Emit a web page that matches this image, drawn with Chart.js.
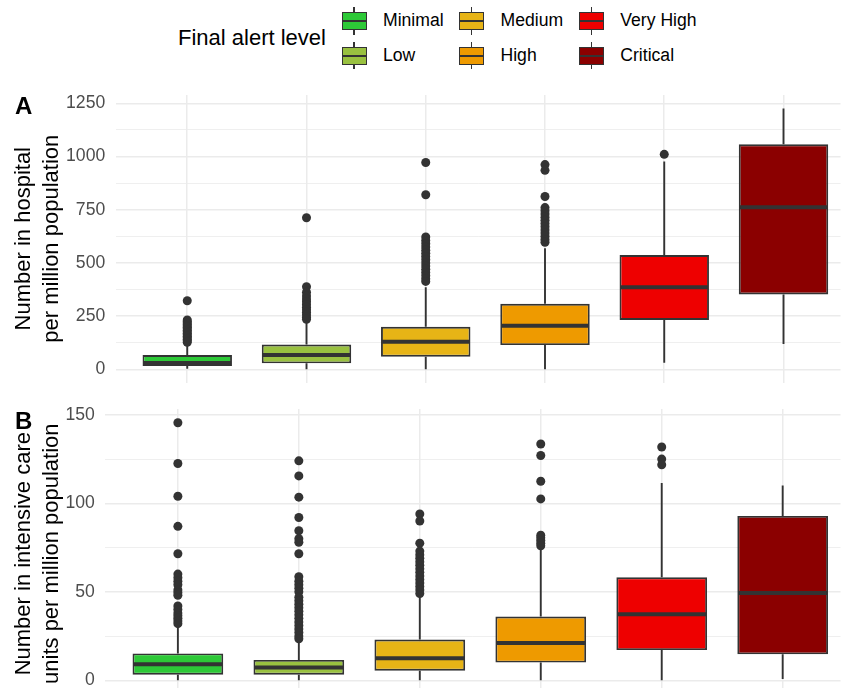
<!DOCTYPE html>
<html><head><meta charset="utf-8">
<script src="https://cdn.jsdelivr.net/npm/chart.js@4.4.1/dist/chart.umd.min.js"></script>
<style>
html,body{margin:0;padding:0;background:#fff;overflow:hidden;}
body{width:845px;height:692px;position:relative;font-family:"Liberation Sans",Arial,sans-serif;}
.wrap{position:absolute;left:0;width:845px;}
#wrapA{top:80px;height:310px;}
#wrapB{top:395px;height:297px;}
.tag{position:absolute;left:15px;font-weight:bold;font-size:24px;line-height:24px;color:#000;z-index:2;}
.ytitle{position:absolute;width:320px;height:55.4px;font-size:22px;line-height:27.7px;color:#000;text-align:center;white-space:nowrap;transform:rotate(-90deg);transform-origin:50% 50%;z-index:1;}
.ltitle{position:absolute;left:178px;top:27px;font-size:22px;line-height:22px;color:#000;white-space:nowrap;}
.llab{position:absolute;font-size:17.6px;line-height:17.6px;color:#000;white-space:nowrap;}
.key{position:absolute;width:25px;height:27.6px;}
.key .wh{position:absolute;left:11.8px;top:0;width:1.5px;height:27.6px;background:#333;}
.key .bx{position:absolute;left:0;top:5px;width:25px;height:18.3px;box-sizing:border-box;border:1.5px solid #333;}
.key .md{position:absolute;left:1px;top:13.1px;width:23px;height:2px;background:#333;}
</style>
</head>
<body>
<div class="ltitle">Final alert level</div>
<div id="legend"></div>
<div class="wrap" id="wrapA"><canvas id="cA"></canvas></div>
<div class="wrap" id="wrapB"><canvas id="cB"></canvas></div>
<div class="ytitle" id="tA" style="left:-122.65px;top:211.3px"></div>
<div class="ytitle" id="tB" style="left:-122.65px;top:525.8px"></div>
<div class="tag" style="top:93.6px">A</div>
<div class="tag" style="top:408.6px">B</div>
<script>
// ---- data ----
const categories = ['Minimal', 'Low', 'Medium', 'High', 'Very High', 'Critical'];
const colors = ['#2DC937', '#99C140', '#E7B416', '#EE9A00', '#EE0000', '#8B0000'];

// Panel A: number in hospital per million population
const hospTitle = ['Number in hospital', 'per million population'];
const hospMin = [2, 0, 0, 0, 31, 119];
const hospQ1  = [15, 28, 59, 114, 232, 352];
const hospMed = [30, 67, 130, 205, 385, 761];
const hospQ3  = [67, 116, 200, 308, 537, 1057];
const hospMax = [122, 228, 385, 569, 976, 1226];
const hospOut = [
  [322, 232, 225, 218, 211, 204, 197, 190, 183, 176, 169, 162, 155, 148, 141, 134, 127],
  [712, 388, 362, 345, 330, 318, 305, 292, 280, 268, 256, 245, 235],
  [972, 820, 622, 605, 590, 575, 560, 545, 530, 515, 500, 485, 470, 455, 440, 425, 413],
  [962, 935, 812, 760, 745, 730, 715, 700, 685, 670, 655, 640, 625, 610, 597],
  [1010],
  []
];
const hospTicks = [0, 250, 500, 750, 1000, 1250];
const hospMinor = [125, 375, 625, 875, 1125];

// Panel B: number in intensive care units per million population
const icuTitle = ['Number in intensive care', 'units per million population'];
const icuMin = [0, 0, 0, 0, 0, 0.8];
const icuQ1  = [3.2, 3.2, 5.4, 10, 17.1, 14.7];
const icuMed = [9.1, 7.2, 12.5, 21.1, 37.3, 49.3];
const icuQ3  = [15.2, 11.5, 23, 36, 58.2, 92.9];
const icuMax = [31.4, 22, 48, 75, 111.5, 110.1];
const icuOut = [
  [145.5, 122.5, 104, 87, 71.5, 60, 58, 56, 54, 51, 49.5, 48, 42, 40, 38, 36.5, 35, 33.5, 32],
  [124, 115.5, 103.5, 92, 84.5, 80, 78, 71.5, 58.5, 56, 54, 52, 50, 47, 45, 43, 41, 39, 37, 35, 33, 31, 29, 27, 25, 23.5],
  [94, 90, 77.5, 73, 71, 69, 67, 65, 63, 61, 59, 57, 55, 53, 51, 49],
  [133.5, 127, 112.5, 102.5, 82, 80.5, 79, 77.5, 76],
  [131.8, 125, 121.8],
  []
];
const icuTicks = [0, 50, 100, 150];
const icuMinor = [25, 75, 125];

// ---- titles ----
function setTitle(id, lines) {
  const el = document.getElementById(id);
  lines.forEach((t, i) => {
    if (i) el.appendChild(document.createElement('br'));
    el.appendChild(document.createTextNode(t));
  });
}
setTitle('tA', hospTitle);
setTitle('tB', icuTitle);

// ---- legend ----
const legend = document.getElementById('legend');
const colCenters = [354, 471.5, 591.3];
const rowCenters = [20.85, 55.3];
categories.forEach((c, i) => {
  const col = Math.floor(i / 2), row = i % 2;
  const k = document.createElement('div');
  k.className = 'key';
  k.style.left = (colCenters[col] - 12.5) + 'px';
  k.style.top = (rowCenters[row] - 13.8) + 'px';
  k.innerHTML = '<div class="wh"></div><div class="bx" style="background:' + colors[i] + '"></div><div class="md"></div>';
  legend.appendChild(k);
  const l = document.createElement('div');
  l.className = 'llab';
  l.textContent = c;
  l.style.left = (colCenters[col] + 29) + 'px';
  l.style.top = (rowCenters[row] - 8.6) + 'px';
  legend.appendChild(l);
});

// ---- chart helpers ----
function boxPlugin(st) {
  return {
    id: 'boxparts',
    beforeDatasetsDraw(chart) {
      const {ctx, scales: {x, y}} = chart;
      ctx.save();
      ctx.strokeStyle = '#333333';
      ctx.lineWidth = 1.9;
      st.min.forEach((v, i) => {
        const px = x.getPixelForValue(i + 1);
        ctx.beginPath();
        ctx.moveTo(px, y.getPixelForValue(st.min[i]));
        ctx.lineTo(px, y.getPixelForValue(st.q1[i]));
        ctx.moveTo(px, y.getPixelForValue(st.q3[i]));
        ctx.lineTo(px, y.getPixelForValue(st.max[i]));
        ctx.stroke();
      });
      ctx.restore();
    },
    afterDatasetsDraw(chart) {
      const {ctx, scales: {y}} = chart;
      const meta = chart.getDatasetMeta(0);
      ctx.save();
      ctx.strokeStyle = '#333333';
      ctx.lineWidth = 4;
      meta.data.forEach((el, i) => {
        const p = el.getProps(['x', 'width'], true);
        const py = y.getPixelForValue(st.med[i]);
        ctx.beginPath();
        ctx.moveTo(p.x - p.width / 2 + 1, py);
        ctx.lineTo(p.x + p.width / 2 - 1, py);
        ctx.stroke();
      });
      ctx.restore();
    }
  };
}

function makeChart(id, st, outs, major, minor, yMin, yMax, axisW, padTop, padBottom) {
  const allTicks = major.concat(minor).sort((a, b) => a - b);
  return new Chart(document.getElementById(id), {
    type: 'bar',
    data: {
      datasets: [
        {
          type: 'bar',
          data: categories.map((c, i) => ({x: i + 1, y: [st.q1[i], st.q3[i]]})),
          backgroundColor: colors,
          borderColor: '#333333',
          borderWidth: 1.9,
          borderSkipped: false,
          categoryPercentage: 1,
          barPercentage: 0.75,
          order: 2
        },
        {
          type: 'scatter',
          data: outs.flatMap((arr, i) => arr.map(v => ({x: i + 1, y: v}))),
          backgroundColor: '#333333',
          borderWidth: 0,
          pointRadius: 4.5,
          pointHoverRadius: 4.5,
          order: 1
        }
      ]
    },
    options: {
      responsive: true,
      maintainAspectRatio: false,
      animation: false,
      events: [],
      layout: {padding: {top: padTop, bottom: padBottom, left: 0, right: 0}},
      plugins: {legend: {display: false}, tooltip: {enabled: false}},
      scales: {
        x: {
          type: 'linear',
          min: 0.4,
          max: 6.478,
          bounds: 'data',
          offset: false,
          ticks: {display: false},
          grid: {color: '#EBEBEB', lineWidth: 1.5, drawTicks: false, offset: false},
          border: {display: false},
          afterBuildTicks: s => { s.ticks = categories.map((c, i) => ({value: i + 1})); },
          afterFit: s => { s.height = 0; s.paddingLeft = 0; s.paddingRight = 0; }
        },
        y: {
          type: 'linear',
          min: yMin,
          max: yMax,
          bounds: 'data',
          ticks: {
            color: '#4D4D4D',
            padding: 10.5,
            font: {family: '"Liberation Sans", Arial, sans-serif', size: 17.6},
            callback: v => major.includes(v) ? String(v) : ''
          },
          grid: {
            color: '#EBEBEB',
            drawTicks: false,
            lineWidth: ctx => (ctx.tick && major.includes(ctx.tick.value)) ? 1.5 : 0.8
          },
          border: {display: false},
          title: {display: false},
          afterBuildTicks: s => { s.ticks = allTicks.map(v => ({value: v})); },
          afterFit: s => { s.width = axisW; s.paddingTop = 0; s.paddingBottom = 0; }
        }
      }
    },
    plugins: [boxPlugin(st)]
  });
}

makeChart('cA', {min: hospMin, q1: hospQ1, med: hospMed, q3: hospQ3, max: hospMax}, hospOut,
  hospTicks, hospMinor, -64.4, 1289, 115.7, 15, 7);

makeChart('cB', {min: icuMin, q1: icuQ1, med: icuMed, q3: icuQ3, max: icuMax}, icuOut,
  icuTicks, icuMinor, -4.06, 153.3, 105.3, 14, 0);
</script>
</body></html>
